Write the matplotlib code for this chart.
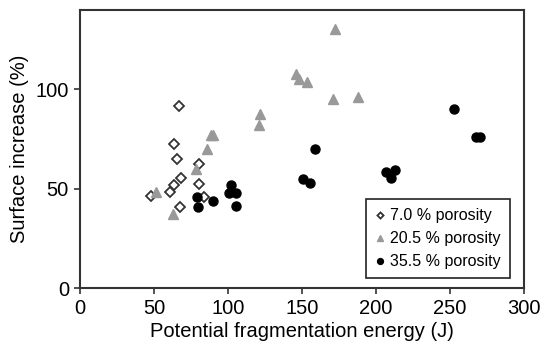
import matplotlib.pyplot as plt

plt.rcParams['font.family'] = ['Liberation Sans', 'DejaVu Sans']

# 7.0 % porosity (open diamonds)
p07_x = [67.1, 63.7, 65.3, 80.6, 68.4, 63.7, 60.6, 47.8, 80.4, 84.0, 67.6]
p07_y = [91.4, 72.5, 65.1, 62.5, 55.5, 51.8, 48.4, 46.5, 52.4, 46.0, 40.5]

# 20.5 % porosity (grey triangles)
p20_x = [51.1, 63.0, 78.2, 85.6, 88.5, 90.1, 172.3, 146.1, 148.0, 153.4,
         171.1, 121.4, 120.9, 187.6]
p20_y = [48.1, 37.2, 59.9, 69.9, 77.2, 77.2, 130.5, 107.9, 104.9, 103.5,
         95.2, 87.6, 81.8, 96.2]

# 35.5 % porosity (black circles)
p35_x = [79.1, 79.5, 89.7, 102.0, 100.5, 105.4, 105.4, 159.0, 150.5, 155.4,
         252.7, 267.6, 270.3, 207.0, 212.8, 210.3]
p35_y = [45.7, 40.8, 43.7, 51.8, 47.6, 47.6, 41.4, 69.9, 54.8, 52.6,
         89.8, 75.8, 75.8, 58.6, 59.4, 55.5]

labels = ['7.0 % porosity', '20.5 % porosity', '35.5 % porosity']

fig = plt.figure(figsize=(5.51, 3.51), dpi=100)
ax = fig.add_axes([80 / 551, 1 - 288 / 351, 444 / 551, 278.3 / 351])

ax.plot(p07_x, p07_y, linestyle='none', marker='D', markersize=4.8,
        markerfacecolor='white', markeredgecolor='#333333', markeredgewidth=1.3,
        label=labels[0], zorder=3)
ax.plot(p20_x, p20_y, linestyle='none', marker='^', markersize=7,
        color='#999999', label=labels[1], zorder=3)
ax.plot(p35_x, p35_y, linestyle='none', marker='o', markersize=6.5,
        color='black', label=labels[2], zorder=3)

ax.set_xlim(0, 300)
ax.set_ylim(0, 140)
ax.set_xticks([0, 50, 100, 150, 200, 250, 300])
ax.set_yticks([0, 50, 100])
ax.tick_params(direction='out', length=4, width=1.2, labelsize=14.5,
               color='#333333', pad=4)

for s in ax.spines.values():
    s.set_linewidth(1.5)
    s.set_color('#333333')

ax.set_xlabel('Potential fragmentation energy (J)', fontsize=14.5, labelpad=3)
ax.set_ylabel('Surface increase (%)', fontsize=14.5, labelpad=5)

leg = ax.legend(loc='lower right', bbox_to_anchor=(0.968, 0.036), fontsize=11.5,
                handlelength=0.6, handletextpad=0.35, markerscale=0.65,
                fancybox=False, framealpha=1, edgecolor='#222222',
                borderpad=0.55, labelspacing=0.5, borderaxespad=0)
leg.get_frame().set_linewidth(1.2)

fig.savefig('out.png', dpi=100)
